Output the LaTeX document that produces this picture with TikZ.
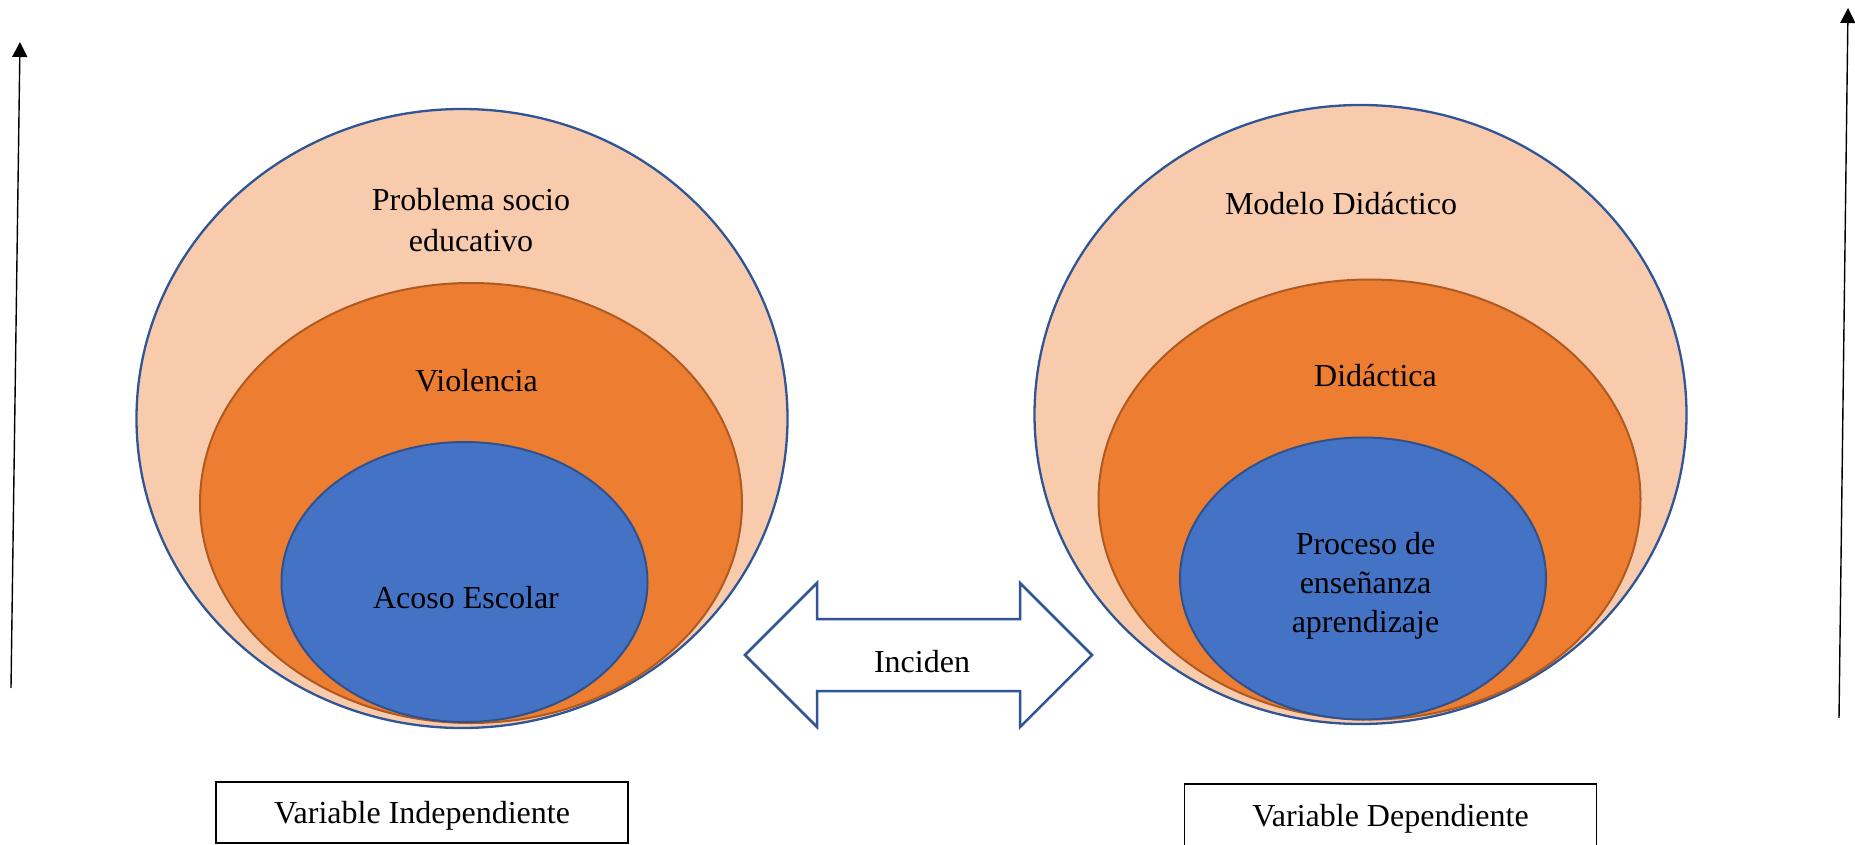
\documentclass[tikz,border=0pt]{standalone}
\usepackage{fontspec}
\setmainfont{Liberation Serif}
\usepackage[HTML]{xcolor}
\usetikzlibrary{positioning, arrows.meta}

\definecolor{peach}{HTML}{F8CBAD}
\definecolor{borde}{HTML}{2F5597}
\definecolor{naranja}{HTML}{ED7D31}
\definecolor{naranjaborde}{HTML}{AE5A21}
\definecolor{azul}{HTML}{4472C4}
\definecolor{azulborde}{HTML}{2F528F}

\tikzset{
  txt/.style={font=\fontsize{32}{39}\selectfont, inner sep=0pt, align=center},
  varbox/.style={draw=black, line width=1.3pt, minimum width=412pt, minimum height=61pt,
    inner sep=0pt, text depth=0pt, font=\fontsize{32}{39}\selectfont},
  vertarrow/.style={-{Triangle[length=15pt, width=15pt]}, line width=1.4pt, black},
}

\begin{document}
\begin{tikzpicture}[x=1pt, y=-1pt]
\useasboundingbox (0,0) rectangle (1855,845);

% Side arrows
\coordinate (lbot) at (11,688);
\coordinate (ltop) at (20,42);
\draw[vertarrow] (lbot) -- (ltop);
\coordinate (rbot) at (1839,718);
\coordinate (rtop) at (1848,8);
\draw[vertarrow] (rbot) -- (rtop);

% Left ellipses (independent variable)
\filldraw[fill=peach, draw=borde, line width=2.3pt] (462,418.5) ellipse [x radius=325.5pt, y radius=309.5pt];
\filldraw[fill=naranja, draw=naranjaborde, line width=2pt] (471,503) ellipse [x radius=271pt, y radius=220pt];
\filldraw[fill=azul, draw=azulborde, line width=2pt] (464.5,582) ellipse [x radius=183pt, y radius=140pt];
\node[txt, font=\fontsize{32}{40.5}\selectfont] (problema) at (471,220) {Problema socio\\educativo};
\node[txt] (violencia) at (476.5,381) {Violencia};
\node[txt] (acoso) at (466,598) {Acoso Escolar};

% Right ellipses (dependent variable)
\filldraw[fill=peach, draw=borde, line width=2.3pt] (1360.5,414.5) ellipse [x radius=326pt, y radius=309.5pt];
\filldraw[fill=naranja, draw=naranjaborde, line width=2pt] (1369.5,499.5) ellipse [x radius=271pt, y radius=220pt];
\filldraw[fill=azul, draw=azulborde, line width=2pt] (1363,578.5) ellipse [x radius=183pt, y radius=141pt];
\node[txt] (modelo) at (1341,203.5) {Modelo Didáctico};
\node[txt] (didactica) at (1375.5,376) {Didáctica};
\node[txt] (proceso) at (1365.5,586) {Proceso de\\enseñanza\\aprendizaje};

% Double arrow
\draw[fill=white, draw=borde, line width=2.5pt, line join=miter]
  (745,655) -- (817,583) -- (817,619) -- (1020,619) -- (1020,583) -- (1092,655)
  -- (1020,727) -- (1020,691) -- (817,691) -- (817,727) -- cycle;
\node[txt] (inciden) at (922,662) {Inciden};

% Variable boxes
\node[varbox] (indep) at (422,812.5) {Variable Independiente};
\node[varbox, minimum height=63pt] (dep) at (1390.5,815.5) {Variable Dependiente};

\end{tikzpicture}
\end{document}
